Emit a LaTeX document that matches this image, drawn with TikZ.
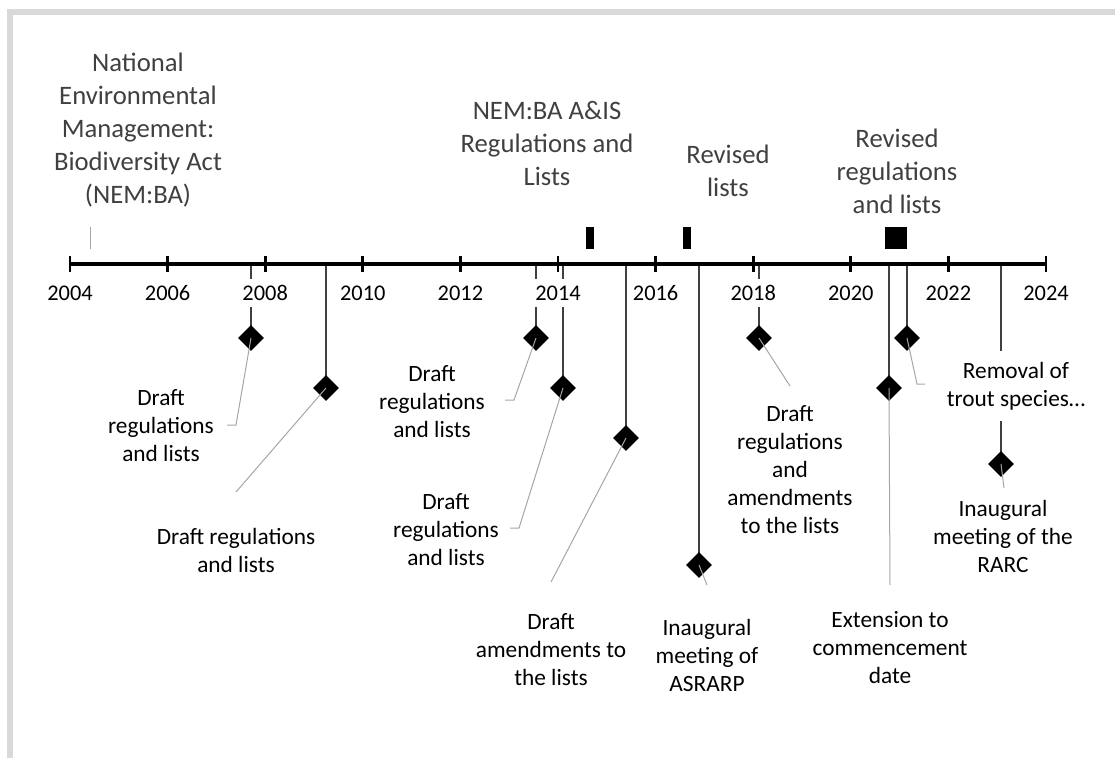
\documentclass[tikz,border=0pt]{standalone}
\usepackage{fontspec}
\setmainfont{Carlito}
\usetikzlibrary{shapes.geometric}
\definecolor{framegray}{HTML}{D9D9D9}
\definecolor{stemgray}{HTML}{404040}
\definecolor{leadgray}{HTML}{A6A6A6}
\definecolor{titlegray}{HTML}{404040}
\begin{document}
\begin{tikzpicture}[x=0.75pt,y=-0.75pt,
  axisline/.style={line width=3pt},
  tickmark/.style={line width=2.2pt},
  stem/.style={draw=stemgray, line width=1.5pt},
  leader/.style={draw=leadgray, line width=0.75pt},
  evdiamond/.style={diamond, fill=black, inner sep=0pt, minimum width=19.5pt, minimum height=19.5pt},
  lbl/.style={align=center, font=\fontsize{17.5}{21}\selectfont, inner sep=1pt, fill=white},
  ttl/.style={align=center, font=\fontsize{20}{24.75}\selectfont, text=titlegray},
  yearlbl/.style={font=\fontsize{16.8}{20}\selectfont, fill=white, inner xsep=1pt, inner ysep=5pt},
  marker/.style={fill=black, inner sep=0pt}]
\useasboundingbox (0,0) rectangle (1115,758);
% frame
\draw[framegray, line width=3.8pt] (1115,12) -- (10,12) -- (10,758);
% axis coordinates
\coordinate (axL) at (70,264);
\coordinate (axR) at (1046,264);
% event diamonds positions (coordinates first for stems)
\coordinate (pA) at (251,338);
\coordinate (pB) at (326,388);
\coordinate (pC) at (536,338);
\coordinate (pD) at (563,388);
\coordinate (pE) at (626,438);
\coordinate (pF) at (699,565);
\coordinate (pG) at (759,338);
\coordinate (pH) at (889,388);
\coordinate (pI) at (907,338);
\coordinate (pJ) at (1001,464);
% stems
\foreach \p in {A,B,C,D,E,F,G,H,I,J}{
  \draw[stem] (p\p |- axL) -- (p\p);
}
% axis
\draw[axisline] (axL) -- (axR);
\foreach \i [evaluate=\i as \yr using int(2004+2*\i)] in {0,...,10}{
  \coordinate (t\i) at ({70+97.6*\i},264);
  \draw[tickmark] (t\i) ++(0,-8) -- ++(0,16);
  \node[yearlbl] (y\yr) at ({70+97.6*\i},293) {\yr};
}
% top markers
\node[marker, minimum width=6pt, minimum height=16.5pt] (r1) at (590,238) {};
\node[marker, minimum width=6pt, minimum height=16.5pt] (r2) at (687,238) {};
\node[marker, minimum width=16.5pt, minimum height=16.5pt] (r3) at (896,238) {};
\coordinate (n0a) at (90,227);
\coordinate (n0b) at (90,249);
\draw[leader] (n0a) -- (n0b);
% top titles
\node[ttl] (T0) at (138,130.5) {National\\Environmental\\Management:\\Biodiversity Act\\(NEM:BA)};
\node[ttl] (T1) at (547,143.5) {NEM:BA A\&IS\\Regulations and\\Lists};
\node[ttl] (T2) at (728,170.5) {Revised\\lists};
\node[ttl] (T3) at (897,171) {Revised\\regulations\\and lists};
% bottom labels
\node[lbl] (LA) at (161,426) {Draft\\regulations\\and lists};
\node[lbl] (LB) at (236,550) {Draft regulations\\and lists};
\node[lbl] (LC) at (432,402) {Draft\\regulations\\and lists};
\node[lbl] (LD) at (446,530) {Draft\\regulations\\and lists};
\node[lbl] (LE) at (551,650) {Draft\\amendments to\\the lists};
\node[lbl] (LF) at (707,655) {Inaugural\\meeting of\\ASRARP};
\node[lbl] (LG) at (790,470) {Draft\\regulations\\and\\amendments\\to the lists};
\node[lbl] (LH) at (890,648) {Extension to\\commencement\\date};
\node[lbl, inner ysep=8pt] (LI) at (1016,386) {Removal of\\trout species…};
\node[lbl] (LJ) at (1003,536) {Inaugural\\meeting of the\\RARC};
% diamonds
\foreach \p in {A,B,C,D,E,F,G,H,I,J}{
  \node[evdiamond] (d\p) at (p\p) {};
}
% leader end coordinates
\coordinate (eA1) at (236,425); \coordinate (eA2) at (227,425);
\coordinate (eB) at (236,492);
\coordinate (eC1) at (514,400); \coordinate (eC2) at (505,400);
\coordinate (eD1) at (519,528); \coordinate (eD2) at (510,528);
\coordinate (eE) at (551,582);
\coordinate (eF) at (707,585);
\coordinate (eG) at (790,386);
\coordinate (eH) at (890,585);
\coordinate (eI1) at (917,384); \coordinate (eI2) at (925,384);
\coordinate (eJ) at (1004,488);
% leaders
\draw[leader] (dA.center) -- (eA1) -- (eA2);
\draw[leader] (dB.center) -- (eB);
\draw[leader] (dC.center) -- (eC1) -- (eC2);
\draw[leader] (dD.center) -- (eD1) -- (eD2);
\draw[leader] (dE.center) -- (eE);
\draw[leader] (dF.center) -- (eF);
\draw[leader] (dG.center) -- (eG);
\draw[leader] (dH.center) -- (eH);
\draw[leader] (dI.center) -- (eI1) -- (eI2);
\draw[leader] (dJ.center) -- (eJ);
\end{tikzpicture}
\end{document}
